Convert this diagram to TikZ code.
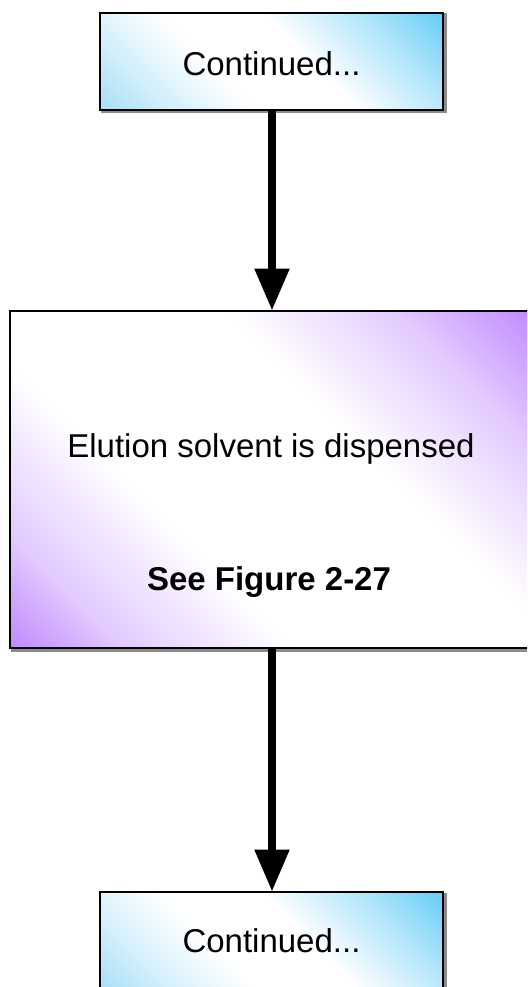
\documentclass[tikz,border=0pt]{standalone}
\usepackage{fontspec}
\setmainfont{Liberation Sans}
\usetikzlibrary{arrows.meta}
\definecolor{boxblue}{HTML}{66CCF6}
\definecolor{boxbluelight}{HTML}{A6DFF8}
\definecolor{boxpurple}{HTML}{C08AFF}
\pgfdeclareverticalshading{purplediag}{100bp}{%
  color(0bp)=(boxpurple); color(14.6bp)=(boxpurple); color(24bp)=(boxpurple!45!white);
  color(38bp)=(white); color(60bp)=(white); color(74bp)=(boxpurple!45!white);
  color(85.4bp)=(boxpurple); color(100bp)=(boxpurple)}
\pgfdeclareverticalshading{bluediag}{100bp}{%
  color(0bp)=(boxbluelight); color(14.6bp)=(boxbluelight); color(26bp)=(boxbluelight!50!white);
  color(40bp)=(white); color(56bp)=(white); color(72bp)=(boxblue!50!white);
  color(85.4bp)=(boxblue); color(100bp)=(boxblue)}
\tikzset{
  flowbox/.style={draw=black, line width=2.6pt, inner sep=0pt},
  bluebox/.style={flowbox, shading=bluediag, shading angle=-45,
                  minimum width=343pt, minimum height=97pt},
  purplebox/.style={flowbox, shading=purplediag, shading angle=-45,
                  minimum width=524pt, minimum height=337pt},
  shadowbox/.style={draw=black!45, line width=3pt, inner sep=0pt},
  label/.style={font=\fontsize{33pt}{38pt}\selectfont, inner sep=0pt},
  flowarrow/.style={line width=8pt, -{Triangle[length=42pt,width=33pt]}, shorten >=-1pt}
}
\begin{document}
\begin{tikzpicture}[x=1pt,y=-1pt]
\useasboundingbox (0,0) rectangle (527,987);
\clip (0,0) rectangle (527,987);
% shadows
\draw[shadowbox] (102.5,14.5) rectangle (445.5,112);
\draw[shadowbox] (12,313) rectangle (536,650);
\draw[shadowbox] (102.5,894.5) rectangle (445.5,995);
% boxes
\node[bluebox] (top) at (271.5,61.5) {};
\node[purplebox] (mid) at (272,479.5) {};
\node[bluebox, minimum height=100pt] (bot) at (271.5,942) {};
% texts
\node[label] (ttop) at (271.5,64) {Continued...};
\node[label] (tmid1) at (271,449) {Elution solvent is dispensed};
\node[label, font=\fontsize{33pt}{38pt}\selectfont\bfseries] (tmid2) at (269,582) {See Figure 2-27};
\node[label] (tbot) at (271.5,941) {Continued...};
% arrows
\draw[flowarrow] (top.south -| 272,0) -- (mid.north -| 272,0);
\draw[flowarrow] (mid.south -| 272,0) -- (bot.north -| 272,0);
\end{tikzpicture}
\end{document}
